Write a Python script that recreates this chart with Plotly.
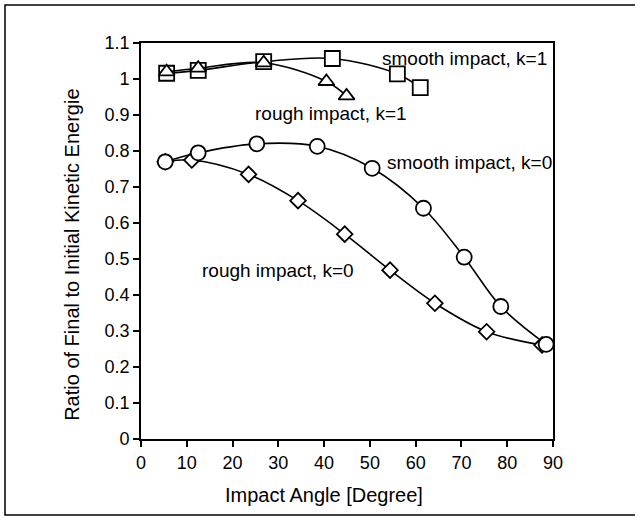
import plotly.graph_objects as go

# Data
smooth_k1_x = [5.6, 12.5, 26.8, 41.8, 56.0, 61.0]
smooth_k1_y = [1.016, 1.024, 1.048, 1.057, 1.014, 0.976]

rough_k1_x = [5.6, 12.5, 26.8, 40.5, 44.9]
rough_k1_y = [1.020, 1.030, 1.045, 0.993, 0.953]

smooth_k0_x = [5.3, 12.5, 25.3, 38.5, 50.5, 61.7, 70.6, 78.6, 88.5]
smooth_k0_y = [0.770, 0.795, 0.820, 0.813, 0.752, 0.641, 0.505, 0.368, 0.263]

rough_k0_x = [5.3, 11.1, 23.5, 34.3, 44.5, 54.4, 64.2, 75.5, 87.6]
rough_k0_y = [0.770, 0.775, 0.735, 0.662, 0.569, 0.469, 0.377, 0.298, 0.261]

labels = ["smooth impact, k=1", "rough impact, k=1", "smooth impact, k=0", "rough impact, k=0"]
label_x = [52.3, 24.5, 53.4, 12.9]
label_y = [1.058, 0.903, 0.767, 0.469]

x_ticks = [0, 10, 20, 30, 40, 50, 60, 70, 80, 90]
y_ticks = [0, 0.1, 0.2, 0.3, 0.4, 0.5, 0.6, 0.7, 0.8, 0.9, 1.0, 1.1]
y_tick_text = ["0", "0.1", "0.2", "0.3", "0.4", "0.5", "0.6", "0.7", "0.8", "0.9", "1", "1.1"]

FONT = "Liberation Sans, Arial, sans-serif"

fig = go.Figure()

def add_series(x, y, symbol, size):
    fig.add_trace(go.Scatter(
        x=x, y=y, mode="lines+markers",
        line=dict(color="black", width=1.6, shape="spline", smoothing=1.0),
        marker=dict(symbol=symbol, size=size, color="white",
                    line=dict(color="black", width=1.8)),
        showlegend=False, cliponaxis=False,
    ))

add_series(rough_k0_x, rough_k0_y, "diamond", 12)
add_series(smooth_k0_x, smooth_k0_y, "circle", 15)
add_series(smooth_k1_x, smooth_k1_y, "square", 15)
add_series(rough_k1_x, rough_k1_y, "triangle-up", 14)

for t, x, y in zip(labels, label_x, label_y):
    fig.add_annotation(x=x, y=y, text=t, showarrow=False, xanchor="left",
                       yanchor="middle", font=dict(family=FONT, size=19, color="black"))

# axis titles
fig.add_annotation(xref="paper", yref="paper", x=0.444, y=0, yshift=-56,
                   text="Impact Angle [Degree]", showarrow=False,
                   xanchor="center", yanchor="middle",
                   font=dict(family=FONT, size=20, color="black"))
fig.add_annotation(xref="paper", yref="paper", x=0, xshift=-69, y=0.465,
                   text="Ratio of Final to Initial Kinetic Energie", showarrow=False,
                   textangle=-90, xanchor="center", yanchor="middle",
                   font=dict(family=FONT, size=20, color="black"))

# outer frame
L, R, T, B = 141, 553, 43, 439
pw, ph = R - L, B - T
fig.add_shape(type="rect", xref="paper", yref="paper",
              x0=(5 - L) / pw, x1=(660 - L) / pw,
              y0=(B - 515) / ph, y1=(B - 5) / ph,
              line=dict(color="black", width=1.5), layer="below")

fig.update_layout(
    width=635, height=516,
    margin=dict(l=L, r=635 - R, t=T, b=516 - B),
    paper_bgcolor="white", plot_bgcolor="white",
    font=dict(family=FONT, size=18, color="black"),
)
fig.update_xaxes(range=[0, 90], tickvals=x_ticks, ticks="outside", ticklen=6,
                 tickwidth=1.5, tickcolor="black", showline=True, linecolor="black",
                 linewidth=1.8, mirror=True, showgrid=False, zeroline=False,
                 tickfont=dict(family=FONT, size=18))
fig.update_yaxes(range=[0, 1.1], tickvals=y_ticks, ticktext=y_tick_text, ticks="outside",
                 ticklen=6, tickwidth=1.5, tickcolor="black", showline=True,
                 linecolor="black", linewidth=1.8, mirror=True, showgrid=False,
                 zeroline=False, tickfont=dict(family=FONT, size=18))

fig.write_html("out.html")
